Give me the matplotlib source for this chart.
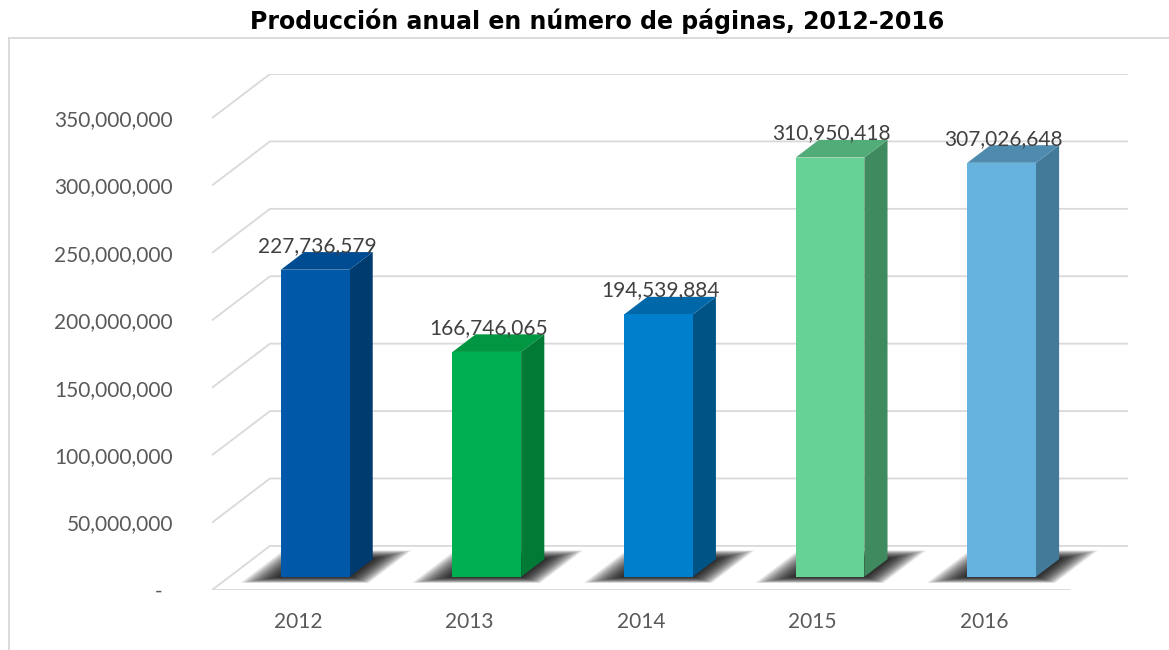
import numpy as np
import matplotlib
matplotlib.use('Agg')
import matplotlib.pyplot as plt
from matplotlib.patches import Polygon
from matplotlib.lines import Line2D
from matplotlib.ticker import FuncFormatter

years = ['2012', '2013', '2014', '2015', '2016']
pages = [227736579, 166746065, 194539884, 310950418, 307026648]
front_colors = ['#0058A8', '#00B050', '#0080CC', '#66D394', '#65B3DE']
side_colors = ['#003B70', '#007A35', '#005485', '#3F8A5E', '#437A99']
top_colors = ['#004C92', '#009642', '#0068A8', '#52AC78', '#4E8BAE']
yticks = np.arange(0, 350000001, 50000000)

# 3D look: depth offset of the whole floor, in data units
DX = 0.338
DY = 32.7e6
D0, D1 = 0.3, 0.7      # bar front/back depth
BW = 0.4               # bar width (fraction of slot)

grid_c = '#D9D9D9'
txt_c = '#595959'

fig = plt.figure(figsize=(11.69, 6.5), dpi=100)
ax = fig.add_axes([212/1169, 60/650, 916/1169, 516/650])
ax.set_xlim(0, 5 + DX)
ax.set_ylim(0, 350e6 + DY)
for s in ax.spines.values():
    s.set_visible(False)

# back wall grid + left wall diagonals
for v in yticks:
    ax.plot([0, DX, 5 + DX], [v, v + DY, v + DY], color=grid_c, lw=1.3, zorder=1,
            solid_capstyle='butt')
ax.plot([0, 5], [0, 0], color=grid_c, lw=1.3, zorder=1)

def fp(x, d):
    # point on the floor at slot x, depth d
    return (x + d * DX, d * DY)

for i, v in enumerate(pages):
    xl = i + (1 - BW) / 2
    xr = xl + BW
    # soft shadow: stacked translucent footprints
    n = 30
    for k in range(n):
        t = 1 - k / n
        pts = [fp(xl - 0.19 * t, D0 - 0.14 * t), fp(xr + 0.16 * t, D0 - 0.14 * t),
               fp(xr + 0.16 * t, D1 + 0.2 * t), fp(xl - 0.19 * t, D1 + 0.2 * t)]
        ax.add_patch(Polygon(pts, closed=True, facecolor='black', edgecolor='none',
                             alpha=0.05, zorder=2))
    y0f = D0 * DY
    y0b = D1 * DY
    dxb = (D1 - D0) * DX
    front = [(xl + D0 * DX, y0f), (xr + D0 * DX, y0f), (xr + D0 * DX, y0f + v), (xl + D0 * DX, y0f + v)]
    side = [(xr + D0 * DX, y0f), (xr + D0 * DX + dxb, y0b), (xr + D0 * DX + dxb, y0b + v), (xr + D0 * DX, y0f + v)]
    top = [(xl + D0 * DX, y0f + v), (xr + D0 * DX, y0f + v), (xr + D0 * DX + dxb, y0b + v), (xl + D0 * DX + dxb, y0b + v)]
    ax.add_patch(Polygon(side, closed=True, facecolor=side_colors[i], edgecolor='none', zorder=3))
    ax.add_patch(Polygon(top, closed=True, facecolor=top_colors[i], edgecolor='none', zorder=3))
    ax.add_patch(Polygon(front, closed=True, facecolor=front_colors[i], edgecolor='none', zorder=4))
    ax.text(i + 0.5 + D0 * DX + 0.01, y0b + v + 0.3e6, f'{v:,}', ha='center', va='baseline',
            fontsize=15, family='Lato', color='#404040', zorder=5)

ax.set_yticks(yticks)
ax.yaxis.set_major_formatter(FuncFormatter(lambda v, p: '-  ' if v == 0 else f'{int(v):,}'))
ax.set_xticks(np.arange(5) + 0.5)
ax.set_xticklabels(years)
ax.tick_params(axis='y', length=0, pad=28, labelsize=15, labelcolor=txt_c)
ax.tick_params(axis='x', length=0, pad=16, labelsize=15, labelcolor=txt_c)
for lab in ax.get_xticklabels() + ax.get_yticklabels():
    lab.set_family('Lato')

# chart area border
fig.add_artist(Line2D([9/1169, 9/1169], [0, 1 - 38/650], transform=fig.transFigure, color=grid_c, lw=1.3))
fig.add_artist(Line2D([9/1169, 1], [1 - 38/650, 1 - 38/650], transform=fig.transFigure, color=grid_c, lw=1.3))

fig.text(597/1169, 1 - 21/650, 'Producción anual en número de páginas, 2012-2016',
         ha='center', va='center', fontsize=17, fontweight='bold', family='DejaVu Sans')

plt.savefig('out.png', dpi=100)
